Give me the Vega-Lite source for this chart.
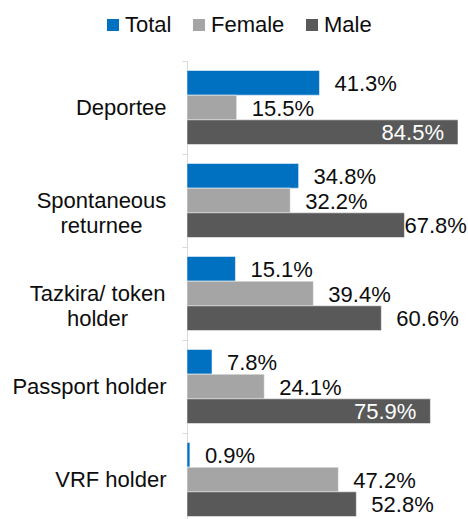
{
  "$schema": "https://vega.github.io/schema/vega-lite/v6.json",
  "width": 279,
  "height": 458,
  "autosize": {"type": "none"},
  "padding": {"left": 187, "top": 61, "right": 2, "bottom": 0},
  "background": "white",
  "config": {"view": {"stroke": null}, "font": "Liberation Sans"},
  "data": {
    "values": [
      {"category": "Deportee", "series": "Total", "value": 0.413},
      {"category": "Deportee", "series": "Female", "value": 0.155},
      {"category": "Deportee", "series": "Male", "value": 0.845},
      {"category": "Spontaneous returnee", "series": "Total", "value": 0.348},
      {"category": "Spontaneous returnee", "series": "Female", "value": 0.322},
      {"category": "Spontaneous returnee", "series": "Male", "value": 0.678},
      {"category": "Tazkira/ token holder", "series": "Total", "value": 0.151},
      {"category": "Tazkira/ token holder", "series": "Female", "value": 0.394},
      {"category": "Tazkira/ token holder", "series": "Male", "value": 0.606},
      {"category": "Passport holder", "series": "Total", "value": 0.078},
      {"category": "Passport holder", "series": "Female", "value": 0.241},
      {"category": "Passport holder", "series": "Male", "value": 0.759},
      {"category": "VRF holder", "series": "Total", "value": 0.009},
      {"category": "VRF holder", "series": "Female", "value": 0.472},
      {"category": "VRF holder", "series": "Male", "value": 0.528}
    ]
  },
  "encoding": {
    "y": {
      "field": "category",
      "type": "nominal",
      "sort": ["Deportee", "Spontaneous returnee", "Tazkira/ token holder", "Passport holder", "VRF holder"],
      "scale": {"range": [0, 465], "paddingInner": 0, "paddingOuter": 0},
      "axis": {
        "title": null,
        "domainColor": "#D9D9D9",
        "tickColor": "#D9D9D9",
        "tickSize": 5,
        "tickBand": "extent",
        "labelFontSize": 22,
        "labelFont": "Liberation Sans",
        "labelColor": "#0d0d0d",
        "labelLineHeight": 25,
        "labelLimit": 0,
        "labelBaseline": "middle",
        "labelExpr": "datum.value == 'Spontaneous returnee' ? ['Spontaneous', 'returnee'] : datum.value == 'Tazkira/ token holder' ? ['Tazkira/ token', 'holder'] : datum.label",
        "labelAlign": {"condition": {"test": "datum.value == 'Spontaneous returnee' || datum.value == 'Tazkira/ token holder'", "value": "center"}, "value": "right"},
        "labelPadding": {"condition": [{"test": "datum.value == 'Spontaneous returnee'", "value": 81}, {"test": "datum.value == 'Tazkira/ token holder'", "value": 85}], "value": 16}
      }
    },
    "yOffset": {
      "field": "series",
      "type": "nominal",
      "sort": ["Total", "Female", "Male"],
      "scale": {"paddingInner": 0, "paddingOuter": 0.385}
    },
    "x": {
      "field": "value",
      "type": "quantitative",
      "scale": {"domain": [0, 0.87], "nice": false, "zero": true},
      "axis": null
    }
  },
  "layer": [
    {
      "mark": {"type": "bar", "stroke": "white", "strokeWidth": 0.5},
      "encoding": {
        "color": {
          "field": "series",
          "type": "nominal",
          "scale": {"domain": ["Total", "Female", "Male"], "range": ["#0070C0", "#A5A5A5", "#595959"]},
          "legend": {
            "orient": "none",
            "legendX": -85,
            "legendY": -47,
            "direction": "horizontal",
            "columns": 3,
            "title": null,
            "symbolType": "square",
            "symbolSize": 144,
            "symbolStrokeWidth": 0,
            "labelFontSize": 22,
            "labelFont": "Liberation Sans",
            "labelColor": "#0d0d0d",
            "labelOffset": 1,
            "columnPadding": 16,
            "padding": 0
          }
        }
      }
    },
    {
      "transform": [{"filter": "datum.value < 0.65"}],
      "mark": {"type": "text", "align": "left", "baseline": "middle", "dx": 15, "dy": 1, "fontSize": 22, "font": "Liberation Sans", "color": "#0d0d0d"},
      "encoding": {"text": {"field": "value", "type": "quantitative", "format": ".1%"}}
    },
    {
      "transform": [{"filter": "datum.value >= 0.65 && datum.value < 0.7"}],
      "mark": {"type": "text", "align": "left", "baseline": "middle", "dx": 0, "dy": 1, "fontSize": 22, "font": "Liberation Sans", "color": "#0d0d0d"},
      "encoding": {"text": {"field": "value", "type": "quantitative", "format": ".1%"}}
    },
    {
      "transform": [{"filter": "datum.value >= 0.7"}],
      "mark": {"type": "text", "align": "right", "baseline": "middle", "dx": -14, "dy": 1, "fontSize": 22, "font": "Liberation Sans", "color": "white"},
      "encoding": {"text": {"field": "value", "type": "quantitative", "format": ".1%"}}
    }
  ]
}
